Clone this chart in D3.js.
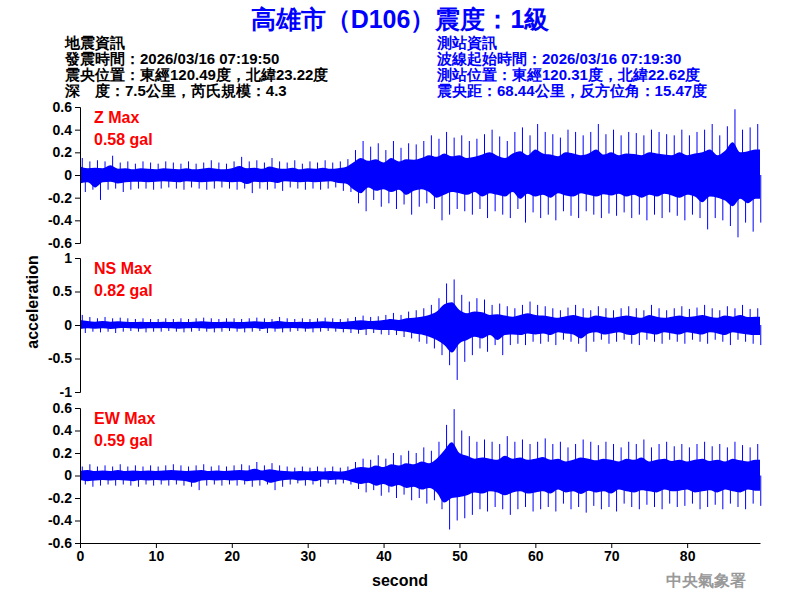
<!DOCTYPE html>
<html><head><meta charset="utf-8">
<script src="https://cdn.jsdelivr.net/npm/d3@7"></script>
<style>body{margin:0;background:#fff}text{font-family:Arial,"Liberation Sans",sans-serif}</style>
</head><body><svg id="c" width="800" height="600"></svg>
<script>
// Per-second envelope (max / min) of each channel (gal)
const seconds = d3.range(90);
const zUp = [.15,.12,.13,.12,.17,.11,.12,.10,.12,.11, .10,.12,.11,.10,.12,.10,.11,.13,.11,.10, .12,.16,.12,.13,.11,.15,.12,.11,.13,.10, .12,.11,.13,.11,.12,.14,.22,.30,.25,.28, .22,.30,.24,.28,.27,.30,.35,.32,.38,.33, .35,.30,.32,.36,.40,.34,.30,.38,.42,.35, .45,.38,.36,.33,.40,.38,.35,.38,.45,.36, .40,.35,.38,.37,.35,.40,.38,.36,.35,.40, .35,.38,.40,.45,.35,.43,.58,.40,.42,.45];
const zLo = [-.15,-.13,-.22,-.13,-.12,-.15,-.13,-.12,-.12,-.13, -.12,-.11,-.12,-.13,-.11,-.12,-.13,-.12,-.11,-.12, -.13,-.12,-.16,-.12,-.13,-.12,-.14,-.11,-.12,-.13, -.12,-.13,-.12,-.11,-.14,-.15,-.25,-.32,-.22,-.28, -.25,-.30,-.26,-.35,-.28,-.25,-.30,-.40,-.35,-.30, -.32,-.35,-.30,-.38,-.32,-.35,-.38,-.30,-.42,-.33, -.38,-.35,-.40,-.32,-.36,-.38,-.32,-.35,-.38,-.34, -.36,-.33,-.38,-.35,-.40,-.35,-.38,-.33,-.36,-.40, -.35,-.38,-.48,-.38,-.40,-.45,-.55,-.42,-.50,-.42];
const nsUp = [.15,.12,.10,.12,.10,.11,.10,.09,.10,.09, .09,.10,.09,.10,.09,.10,.11,.10,.09,.10, .10,.09,.10,.11,.10,.09,.12,.10,.09,.10, .09,.10,.11,.10,.09,.10,.12,.14,.12,.13, .15,.18,.15,.20,.22,.25,.30,.40,.62,.68, .45,.35,.40,.38,.30,.32,.28,.25,.30,.35, .30,.28,.25,.22,.26,.30,.25,.22,.28,.25, .22,.25,.28,.25,.22,.30,.25,.22,.25,.28, .24,.26,.30,.25,.22,.28,.25,.30,.24,.25];
const nsLo = [-.12,-.10,-.11,-.10,-.12,-.10,-.09,-.10,-.11,-.10, -.10,-.09,-.10,-.11,-.10,-.09,-.10,-.11,-.10,-.09, -.10,-.11,-.10,-.09,-.12,-.10,-.11,-.10,-.09,-.10, -.11,-.10,-.09,-.10,-.11,-.12,-.13,-.15,-.12,-.14, -.15,-.15,-.18,-.20,-.25,-.28,-.35,-.45,-.60,-.82, -.55,-.45,-.35,-.40,-.30,-.45,-.30,-.28,-.30,-.25, -.28,-.25,-.30,-.22,-.25,-.28,-.40,-.25,-.22,-.28, -.25,-.22,-.28,-.30,-.22,-.25,-.28,-.22,-.25,-.28, -.22,-.25,-.28,-.22,-.25,-.30,-.22,-.25,-.28,-.30];
const ewUp = [.08,.10,.08,.09,.08,.10,.08,.09,.08,.09, .08,.09,.10,.09,.08,.09,.10,.08,.09,.08, .09,.10,.09,.12,.09,.11,.09,.08,.07,.08, .07,.08,.07,.08,.07,.08,.12,.15,.14,.18, .15,.20,.18,.22,.20,.25,.22,.30,.45,.59, .40,.35,.30,.32,.30,.28,.35,.30,.32,.28, .30,.33,.28,.30,.25,.28,.32,.30,.27,.30, .28,.25,.30,.28,.32,.25,.28,.30,.26,.28, .25,.28,.30,.26,.28,.25,.30,.27,.25,.28];
const ewLo = [-.08,-.10,-.09,-.08,-.09,-.08,-.09,-.10,-.08,-.09, -.08,-.09,-.08,-.09,-.10,-.13,-.09,-.08,-.09,-.08, -.09,-.08,-.10,-.09,-.08,-.13,-.10,-.08,-.07,-.09, -.08,-.10,-.07,-.08,-.07,-.08,-.12,-.15,-.13,-.18, -.15,-.20,-.17,-.22,-.20,-.25,-.22,-.30,-.48,-.40, -.38,-.35,-.30,-.32,-.28,-.30,-.35,-.30,-.28,-.32, -.30,-.28,-.32,-.25,-.30,-.28,-.33,-.27,-.30,-.28, -.32,-.25,-.28,-.30,-.26,-.28,-.30,-.25,-.28,-.27, -.25,-.30,-.28,-.26,-.30,-.25,-.28,-.30,-.25,-.27];
const xTicks = [0,10,20,30,40,50,60,70,80];
const panels = [
  {up:zUp, lo:zLo, dom:[-0.6,0.6], ticks:[-0.6,-0.4,-0.2,0,0.2,0.4,0.6], top:107, bot:243, name:"Z Max", max:"0.58 gal"},
  {up:nsUp, lo:nsLo, dom:[-1,1], ticks:[-1,-0.5,0,0.5,1], top:258, bot:392, name:"NS Max", max:"0.82 gal"},
  {up:ewUp, lo:ewLo, dom:[-0.6,0.6], ticks:[-0.6,-0.4,-0.2,0,0.2,0.4,0.6], top:408, bot:543, name:"EW Max", max:"0.59 gal"}
];
const svg = d3.select("#c");
const x = d3.scaleLinear().domain([0,89.6]).range([80,760]);
const fmt = v => String(v);
const CORE = 0.5;
panels.forEach((p,k)=>{
  const y = d3.scaleLinear().domain(p.dom).range([p.bot,p.top]);
  // dense core band
  const core = seconds.map(i=>({t:i, a:p.up[i]*CORE, b:p.lo[i]*CORE}));
  core.push({t:89.6, a:core[89].a, b:core[89].b});
  svg.append("path").attr("d",d3.area().x(d=>x(d.t)).y0(d=>y(d.b)).y1(d=>y(d.a)).curve(d3.curveMonotoneX)(core))
     .attr("fill","blue");
  // spikes reaching the per-second envelope
  const g = svg.append("g").attr("stroke","blue").attr("stroke-width",1);
  seconds.forEach(i=>{
    g.append("line").attr("x1",x(i+0.3)).attr("x2",x(i+0.3)).attr("y1",y(0)).attr("y2",y(p.up[i]));
    g.append("line").attr("x1",x(i+0.7)).attr("x2",x(i+0.7)).attr("y1",y(0)).attr("y2",y(p.lo[i]));
  });
  const ax = svg.append("g").attr("transform","translate(80,0)").call(d3.axisLeft(y).tickValues(p.ticks).tickSize(5).tickFormat(fmt));
  ax.selectAll("text").attr("font-size",14).attr("font-weight","bold").attr("fill","#000");
  ax.select(".domain").attr("stroke","#000");
  svg.append("text").attr("x",94).attr("y",p.top+16).attr("fill","red").attr("font-size",16).attr("font-weight","bold").text(p.name);
  svg.append("text").attr("x",94).attr("y",p.top+38).attr("fill","red").attr("font-size",16).attr("font-weight","bold").text(p.max);
  if(k===2){
    const bx = svg.append("g").attr("transform","translate(0,"+p.bot+")").call(d3.axisBottom(x).tickValues(xTicks).tickSize(5).tickSizeOuter(0));
    bx.selectAll("text").attr("font-size",14).attr("font-weight","bold").attr("fill","#000");
  }
});
const cjk = "'Noto Sans CJK TC',sans-serif";
svg.append("text").attr("x",400).attr("y",28).attr("text-anchor","middle").attr("fill","#0000ff").attr("font-size",25).attr("font-weight","bold").attr("font-family",cjk).text("高雄市（D106）震度：1級");
const left = ["地震資訊","發震時間：2026/03/16 07:19:50","震央位置：東經120.49度，北緯23.22度","深　度：7.5公里，芮氏規模：4.3"];
const right = ["測站資訊","波線起始時間：2026/03/16 07:19:30","測站位置：東經120.31度，北緯22.62度","震央距：68.44公里，反方位角：15.47度"];
left.forEach((t,i)=>svg.append("text").attr("x",65).attr("y",48+i*16).attr("font-size",15).attr("font-weight","bold").attr("font-family",cjk).attr("fill","#000").text(t));
right.forEach((t,i)=>svg.append("text").attr("x",437).attr("y",48+i*16).attr("font-size",15).attr("font-weight","bold").attr("font-family",cjk).attr("fill","#0000ff").text(t));
svg.append("text").attr("transform","translate(38,302) rotate(-90)").attr("text-anchor","middle").attr("font-size",16).attr("font-weight","bold").text("acceleration");
svg.append("text").attr("x",400).attr("y",586).attr("text-anchor","middle").attr("font-size",16).attr("font-weight","bold").text("second");
svg.append("text").attr("x",746).attr("y",586).attr("text-anchor","end").attr("font-size",16).attr("font-weight","bold").attr("fill","#999").attr("font-family",cjk).text("中央氣象署");
</script></body></html>
